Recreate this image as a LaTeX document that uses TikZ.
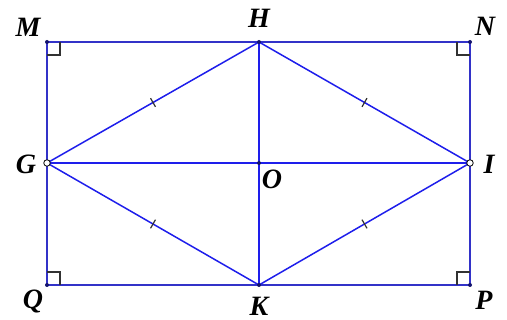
\documentclass[tikz,border=0pt]{standalone}
\usepackage{fontspec}
\setmainfont{Liberation Serif}
\usetikzlibrary{calc}
\definecolor{rectcol}{RGB}{50,50,200}
\definecolor{rhombcol}{RGB}{30,30,235}
\definecolor{markcol}{RGB}{50,50,50}
\definecolor{dotcol}{RGB}{20,20,110}

\begin{document}
\begin{tikzpicture}[
    x=1pt, y=-1pt,
    edge/.style={line width=1.5pt, draw=#1},
    rightangle/.style={line width=1.1pt, draw=markcol},
    tickmark/.style={line width=1.2pt, draw=markcol},
    ptlabel/.style={font=\fontsize{28}{28}\selectfont\bfseries\itshape},
    dot/.style={circle, fill=dotcol, inner sep=0pt, minimum size=4pt},
    hollow/.style={circle, draw=black, fill=white, line width=0.8pt, inner sep=0pt, minimum size=6.5pt},
]
\useasboundingbox (0,0) rectangle (507,320);

% ============ POINTS ============
\coordinate (M) at (47,42);
\coordinate (N) at (470,42);
\coordinate (P) at (470,285);
\coordinate (Q) at (47,285);
\coordinate (H) at (259,42);
\coordinate (K) at (259,285);
\coordinate (G) at (47,163);
\coordinate (I) at (470,163);
\coordinate (O) at (259,163);

% ============ RECTANGLE MNPQ ============
\draw[edge=rectcol] (M) -- (N) -- (P) -- (Q) -- cycle;

% ============ RHOMBUS GHIK + DIAGONALS ============
\draw[edge=rhombcol] (G) -- (H) -- (I) -- (K) -- cycle;
\draw[edge=rhombcol] (G) -- (I);
\draw[edge=rhombcol] (H) -- (K);

% right angles
\draw[rightangle] ($(M)+(13,0)$) |- ($(M)+(0,13)$);
\draw[rightangle] ($(N)+(-13,0)$) |- ($(N)+(0,13)$);
\draw[rightangle] ($(P)+(-13,0)$) |- ($(P)+(0,-13)$);
\draw[rightangle] ($(Q)+(13,0)$) |- ($(Q)+(0,-13)$);

% equal sides
\foreach \a/\b in {G/H, H/I, I/K, K/G} {
    \coordinate (mid\a\b) at ($(\a)!0.5!(\b)$);
    \draw[tickmark] ($(mid\a\b)!5pt!90:(\b)$) -- ($(mid\a\b)!5pt!-90:(\b)$);
}

% dots
\foreach \p in {M, N, P, Q, H, K, O}
    \node[dot] (d\p) at (\p) {};
\node[hollow] (dG) at (G) {};
\node[hollow] (dI) at (I) {};

% ============ LABELS ============
\node[ptlabel] (lM) at (28,27) {M};
\node[ptlabel] (lN) at (485,26) {N};
\node[ptlabel] (lH) at (259,18) {H};
\node[ptlabel] (lG) at (26,164) {G};
\node[ptlabel] (lI) at (489,164) {I};
\node[ptlabel] (lO) at (272,179) {O};
\node[ptlabel] (lQ) at (33,302) {Q};
\node[ptlabel] (lK) at (259,306) {K};
\node[ptlabel] (lP) at (484,300) {P};

\end{tikzpicture}
\end{document}
